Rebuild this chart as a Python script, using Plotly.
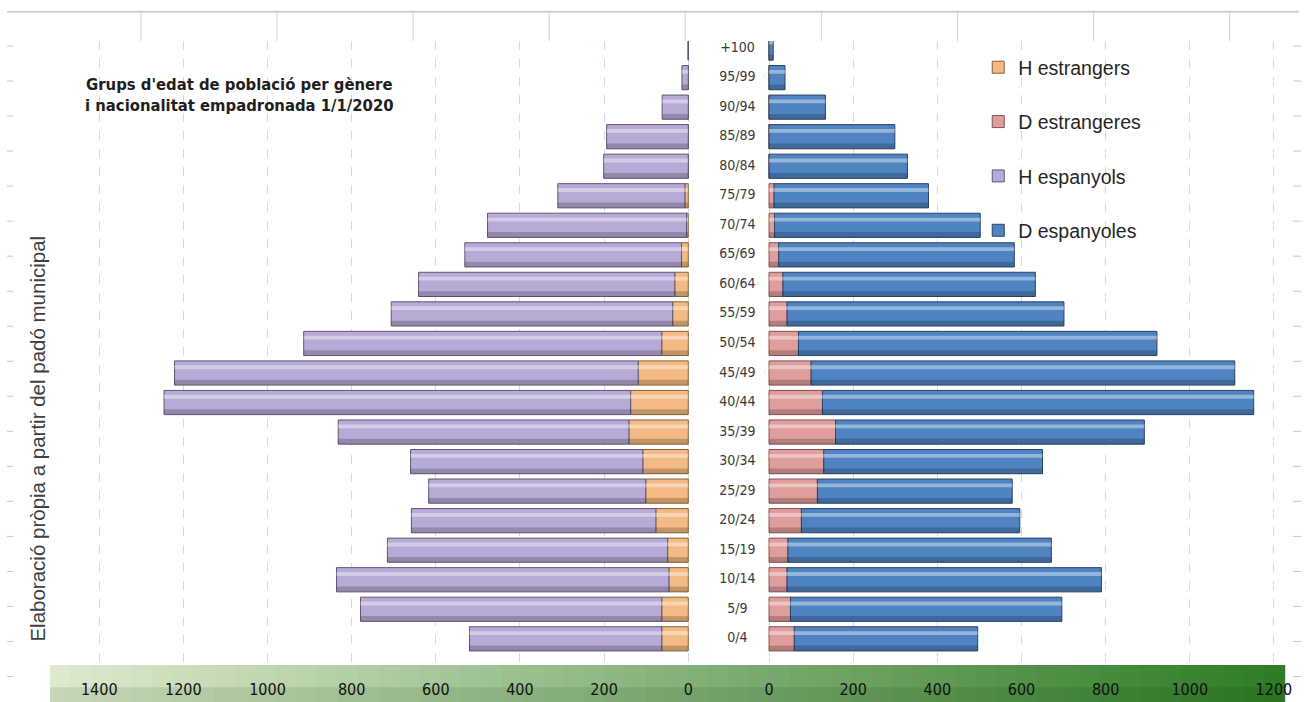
import plotly.graph_objects as go

# ---------------- data ----------------
categories = ["0/4", "5/9", "10/14", "15/19", "20/24", "25/29", "30/34", "35/39",
              "40/44", "45/49", "50/54", "55/59", "60/64", "65/69", "70/74",
              "75/79", "80/84", "85/89", "90/94", "95/99", "+100"]

h_estrangers = [63, 63, 46, 49, 77, 101, 108, 141, 137, 119, 63, 37, 32, 16, 4, 8, 0, 0, 0, 0, 0]
h_espanyols = [457, 716, 790, 666, 581, 516, 552, 691, 1109, 1102, 851, 669, 609, 515, 473, 302, 201, 194, 62, 15, 0]
d_estrangeres = [60, 51, 43, 45, 77, 115, 130, 158, 127, 100, 70, 43, 33, 23, 13, 12, 0, 0, 0, 0, 0]
d_espanyoles = [436, 645, 747, 626, 519, 463, 520, 734, 1025, 1007, 852, 658, 600, 560, 489, 367, 329, 299, 134, 38, 10]

left_ticks = [0, 200, 400, 600, 800, 1000, 1200, 1400]
right_ticks = [0, 200, 400, 600, 800, 1000, 1200]

title_text = "Grups d'edat de població per gènere<br>i nacionalitat empadronada 1/1/2020"
side_text = "Elaboració pròpia a partir del padó municipal"

# ---------------- layout geometry ----------------
W, H = 1304, 711
S = H / 702.0
ML, MR = 50, 19
MT, MB = 40 * S, 42 * S
PW, PH = W - ML - MR, H - MT - MB
GAP = 96            # half gap between the two halves (axis units)
XMIN, XMAX = -1613, 1320
LABEL_X = 21
BAR_W = 0.82
NARROW = "Liberation Sans Narrow, DejaVu Sans Condensed, sans-serif"


def px2x(px):
    return (px - ML) / PW


def py2y(py):
    return (H - MB - py * S) / PH


n = len(categories)
series = [
    ("H estrangers", [-v for v in h_estrangers], [-GAP] * n, "#f3bb83", "#8a6136", "a", 1),
    ("D estrangeres", d_estrangeres, [GAP] * n, "#df9d9b", "#875150", "b", 2),
    ("H espanyols", [-v for v in h_espanyols], [-GAP - v for v in h_estrangers], "#b8aad6", "#5f5675", "c", 3),
    ("D espanyoles", d_espanyoles, [GAP + v for v in d_estrangeres], "#4f83c2", "#2a4468", "d", 4),
]

fig = go.Figure()
for name, xs, bases, col, edge, grp, rank in series:
    fig.add_trace(go.Bar(
        name=name, orientation="h", y=categories, x=xs, base=bases,
        width=BAR_W, marker=dict(color=col, line=dict(color=edge, width=1)),
        legendgroup=grp, legendrank=rank))
# bevel-like shading (same bars, highlight stripe and darker lower band)
for name, xs, bases, col, edge, grp, rank in series:
    fig.add_trace(go.Bar(
        orientation="h", y=categories, x=xs, base=bases,
        width=0.13, offset=0.13, showlegend=False, hoverinfo="skip",
        marker=dict(color="rgba(255,255,255,0.40)", line=dict(width=0)),
        legendgroup=grp))
    fig.add_trace(go.Bar(
        orientation="h", y=categories, x=xs, base=bases,
        width=0.17, offset=-0.40, showlegend=False, hoverinfo="skip",
        marker=dict(color="rgba(0,0,0,0.20)", line=dict(width=0)),
        legendgroup=grp))

fig.add_trace(go.Scatter(
    x=[LABEL_X] * n, y=categories, text=categories,
    mode="text", textposition="middle center", showlegend=False,
    textfont=dict(family=NARROW, size=14, color="#3a3a3a"),
    hoverinfo="skip"))

tickvals = [-GAP - t for t in left_ticks] + [GAP + t for t in right_ticks]
ticktext = [str(t) for t in left_ticks] + [str(t) for t in right_ticks]

shapes = []
n_strips = 60
c0 = (0xdc, 0xe9, 0xcc)
c1 = (0x2f, 0x7c, 0x26)
for i in range(n_strips):
    t = i / (n_strips - 1)
    colr = tuple(int(round(a + (b - a) * t)) for a, b in zip(c0, c1))
    shapes.append(dict(type="rect", xref="paper", yref="paper",
                       x0=px2x(50 + PW * i / n_strips), x1=px2x(50 + PW * (i + 1) / n_strips) + 0.001,
                       y0=py2y(702), y1=py2y(660),
                       fillcolor="rgb(%d,%d,%d)" % colr, line=dict(width=0), layer="below"))
shapes.append(dict(type="rect", xref="paper", yref="paper",
                   x0=px2x(50), x1=px2x(1285), y0=py2y(702), y1=py2y(682),
                   fillcolor="rgba(0,50,0,0.10)", line=dict(width=0), layer="below"))
shapes.append(dict(type="line", xref="paper", yref="paper",
                   x0=px2x(7), x1=px2x(1300), y0=py2y(11), y1=py2y(11),
                   line=dict(color="#d0d0d0", width=2)))
for k in range(9):
    xp = 141 + 136.2 * k
    shapes.append(dict(type="line", xref="paper", yref="paper",
                       x0=px2x(xp), x1=px2x(xp), y0=py2y(11), y1=py2y(40),
                       line=dict(color="#d0d0d0", width=1)))
for k in range(19):
    yp = 45 + 34.8 * k
    shapes.append(dict(type="line", xref="paper", yref="paper",
                       x0=px2x(7), x1=px2x(13), y0=py2y(yp), y1=py2y(yp),
                       line=dict(color="#c8c8c8", width=1)))
    shapes.append(dict(type="line", xref="paper", yref="paper",
                       x0=px2x(1294), x1=px2x(1302), y0=py2y(yp), y1=py2y(yp),
                       line=dict(color="#c8c8c8", width=1)))

annotations = [
    dict(text=title_text, xref="paper", yref="paper", x=px2x(240), y=py2y(94),
         xanchor="center", yanchor="middle", showarrow=False, align="center",
         font=dict(family=NARROW, size=16.5, color="#1e1e1e", weight="bold")),
    dict(text=side_text, xref="paper", yref="paper", x=px2x(38), y=py2y(435),
         xanchor="center", yanchor="middle", showarrow=False, textangle=-90,
         font=dict(family="Liberation Sans, Arial, sans-serif", size=20.5, color="#404040")),
]

fig.update_layout(
    width=W, height=H, autosize=False,
    margin=dict(l=ML, r=MR, t=MT, b=MB, pad=0),
    paper_bgcolor="white", plot_bgcolor="white",
    barmode="overlay",
    shapes=shapes, annotations=annotations,
    showlegend=True,
    legend=dict(x=px2x(979), y=py2y(47), xanchor="left", yanchor="top",
                traceorder="grouped", tracegroupgap=26,
                bgcolor="rgba(0,0,0,0)",
                font=dict(family="Liberation Sans, Arial, sans-serif", size=19.5, color="#262626")),
    xaxis=dict(range=[XMIN, XMAX], tickmode="array", tickvals=tickvals, ticktext=ticktext,
               showgrid=True, gridcolor="#ccdaf2", griddash="dash", gridwidth=1,
               zeroline=False, showline=False,
               ticks="outside", ticklen=10, tickcolor="rgba(0,0,0,0)",
               tickfont=dict(family=NARROW, size=16, color="#111111"),
               fixedrange=True),
    yaxis=dict(type="category", categoryorder="array", categoryarray=categories,
               range=[-0.886, 20.24], showticklabels=False, showgrid=False,
               zeroline=False, showline=False, ticks="", fixedrange=True),
)

post = ("var s=document.createElement('style');"
        "s.textContent='html,body{margin:0;padding:0;overflow:hidden;}';"
        "document.head.appendChild(s);")

fig.write_html("out.html", config={"displayModeBar": False}, post_script=post)
